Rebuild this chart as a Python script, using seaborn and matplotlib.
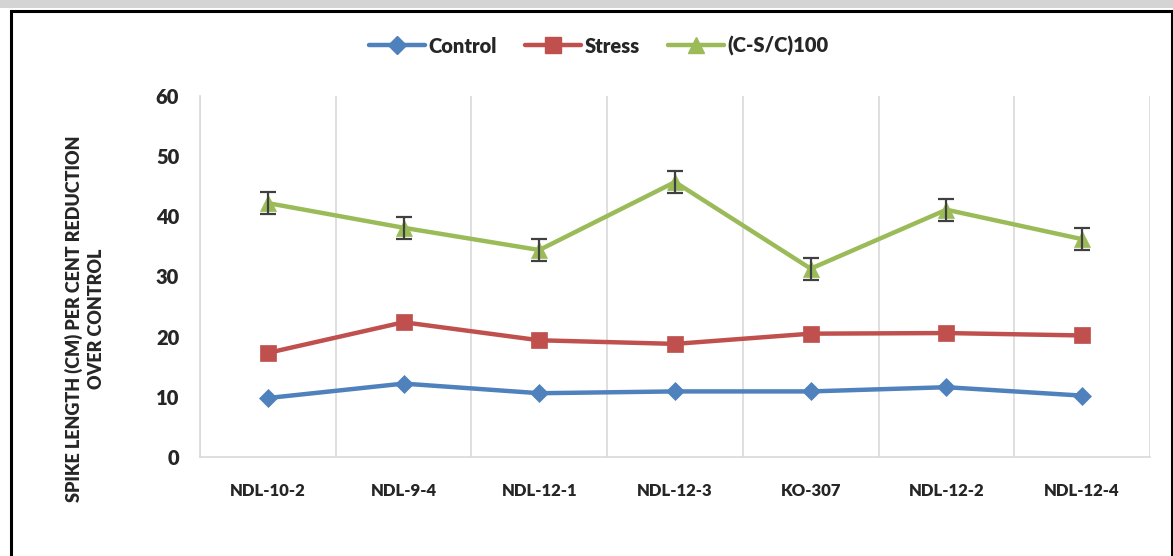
import numpy as np
import pandas as pd
import matplotlib
matplotlib.use("Agg")
import matplotlib.pyplot as plt
from matplotlib.patches import Rectangle
from matplotlib.lines import Line2D
import seaborn as sns

categories = ["NDL-10-2", "NDL-9-4", "NDL-12-1", "NDL-12-3", "KO-307", "NDL-12-2", "NDL-12-4"]
control = [9.8, 12.2, 10.6, 10.9, 10.9, 11.6, 10.2]
stress = [17.3, 22.4, 19.4, 18.8, 20.5, 20.6, 20.2]
reduction = [42.2, 38.1, 34.4, 45.7, 31.3, 41.1, 36.2]
reduction_err = [1.8, 1.8, 1.8, 1.8, 1.8, 1.8, 1.8]
series_names = ["Control", "Stress", "(C-S/C)100"]
y_ticks = [0, 10, 20, 30, 40, 50, 60]

colors = {"Control": "#4F81BD", "Stress": "#C0504D", "(C-S/C)100": "#9BBB59"}
markers = {"Control": "D", "Stress": "s", "(C-S/C)100": "^"}
msizes = {"Control": 9.5, "Stress": 11, "(C-S/C)100": 12}

sns.set_style("white")
plt.rcParams["font.family"] = ["Lato", "DejaVu Sans"]
WEIGHT = "heavy"

df = pd.DataFrame({
    "cat": categories * 3,
    "pos": list(range(len(categories))) * 3,
    "val": control + stress + reduction,
    "series": [series_names[0]] * 7 + [series_names[1]] * 7 + [series_names[2]] * 7,
})

fig = plt.figure(figsize=(11.73, 5.56), dpi=100)
W, H = 1173, 556
ax = fig.add_axes([200 / W, 1 - 457 / H, 950 / W, 361 / H])

for name in series_names:
    sub = df[df["series"] == name]
    sns.lineplot(data=sub, x="pos", y="val", ax=ax, color=colors[name], lw=3.2,
                 marker=markers[name], markersize=msizes[name],
                 markeredgecolor=colors[name], markeredgewidth=0.5, legend=False,
                 zorder=3)

pos = np.arange(len(categories))
ax.errorbar(pos, reduction, yerr=reduction_err, fmt="none", ecolor="#404040",
            elinewidth=1.6, capsize=6, capthick=1.6, zorder=4)

ax.set_xlim(-0.5, len(categories) - 0.5)
ax.set_ylim(0, 60)
ax.set_yticks(y_ticks)
ax.set_yticklabels([str(t) for t in y_ticks], fontsize=14.5, fontweight=WEIGHT)
ax.set_xticks(pos)
ax.set_xticklabels(categories, fontsize=12, fontweight=WEIGHT)
ax.set_xticks(np.arange(-0.5, len(categories)), minor=True)
ax.tick_params(axis="x", which="major", length=0, pad=19)
ax.tick_params(axis="x", which="minor", length=7, color="#D9D9D9", width=1.2)
ax.tick_params(axis="y", which="major", length=7, color="#D9D9D9", width=1.2, pad=8)
ax.grid(False)
ax.grid(True, which="minor", axis="x", color="#D9D9D9", lw=1.2)
for s in ["top", "right"]:
    ax.spines[s].set_visible(False)
for s in ["left", "bottom"]:
    ax.spines[s].set_color("#D9D9D9")
    ax.spines[s].set_linewidth(1.2)
ax.set_xlabel("")
ax.set_ylabel("")

fig.text(84.5 / W, 1 - 319 / H, "SPIKE LENGTH (CM) PER CENT REDUCTION\nOVER CONTROL",
         rotation=90, ha="center", va="center", multialignment="center",
         fontsize=13, fontweight=WEIGHT, linespacing=1.35)

handles = [Line2D([0], [0], color=colors[n], lw=3.2, marker=markers[n],
                  markersize=msizes[n], markeredgecolor=colors[n]) for n in series_names]
fig.legend(handles, series_names, loc="center", bbox_to_anchor=(599 / W, 1 - 46 / H),
           ncol=3, frameon=False, prop={"weight": WEIGHT, "size": 14.5},
           handlelength=2.75, columnspacing=1.4, handletextpad=0.2)

# top strip and frame
fig.patches.append(Rectangle((0, 1 - 8 / H), 1, 8 / H, transform=fig.transFigure,
                             facecolor="#D4D4D4", edgecolor="none", zorder=0))
fig.patches.append(Rectangle((11 / W, -0.1), (1172 - 11) / W, 1.1 - 10.5 / H,
                             transform=fig.transFigure, facecolor="none",
                             edgecolor="black", lw=2.2, zorder=1))

fig.savefig("out.png", dpi=100)
